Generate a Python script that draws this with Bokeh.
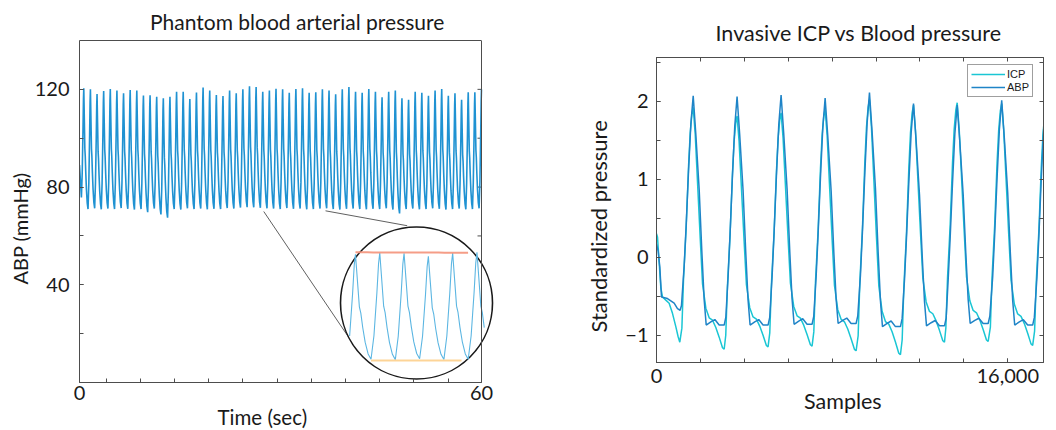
import numpy as np
from bokeh.plotting import figure
from bokeh.layouts import row, column
from bokeh.models import (Range1d, FixedTicker, LinearAxis, Title, Span, Legend,
                          LegendItem)
from bokeh.embed import file_html
from bokeh.resources import INLINE

FONT = "Lato"
TXT = "#1a1a1a"
FRAME = "#4d4d4d"

# ---------------- Left panel data (phantom ABP, 60 s) ----------------
abp_peak_mmHg = [
    120.4, 120.0, 118.1, 119.3, 120.1, 119.5, 118.4, 119.7, 119.5, 117.5,
    117.6, 117.0, 116.4, 117.0, 119.0, 119.0, 116.0, 118.7, 120.8, 119.5,
    117.7, 117.3, 119.5, 118.4, 120.0, 121.3, 121.0, 119.0, 119.5, 120.2,
    120.0, 118.6, 120.1, 120.4, 118.6, 118.8, 120.0, 119.5, 118.0, 120.0,
    121.0, 119.0, 118.6, 120.1, 119.0, 116.8, 119.0, 119.5, 116.4, 115.7,
    119.0, 118.6, 117.4, 119.5, 120.1, 117.4, 118.4, 115.7, 118.8, 118.8,
    120.0]
abp_trough_mmHg = [
    75.7, 71.0, 71.3, 70.9, 71.2, 71.0, 71.4, 71.1, 70.8, 71.0,
    69.7, 71.2, 68.8, 67.5, 71.0, 70.8, 71.3, 71.0, 71.2, 70.9,
    71.1, 71.0, 71.4, 71.2, 71.6, 71.8, 71.7, 71.5, 71.3, 71.2,
    71.0, 71.4, 71.1, 71.2, 70.9, 71.0, 71.2, 71.3, 71.0, 70.8,
    71.1, 71.2, 71.0, 70.9, 71.1, 71.0, 71.3, 70.8, 69.2, 71.0,
    71.2, 70.9, 71.0, 71.3, 71.1, 70.8, 71.0, 71.2, 70.9, 71.0,
    71.3]
abp_start_mmHg = 89.0
abp_first_peak_s = 0.64
abp_period_s = 0.9893
# one beat (phase from trough, 0..1 level)
beat_phase = [0.00, 0.12, 0.24, 0.31, 0.36, 0.44, 0.52, 0.58, 0.66, 0.76, 0.88]
beat_level = [0.00, 0.22, 0.62, 0.90, 1.00, 0.75, 0.50, 0.44, 0.30, 0.16, 0.05]
peak_phase = 0.36

left_xticks = [0, 4.0, 9.1, 14.2, 19.3, 24.4, 29.5, 34.6, 39.7, 44.8, 49.9, 55.0, 60]
left_xlabeled = [0, 60]
left_yticks = [20, 40, 60, 80, 100, 120]
left_ylabeled = [40, 80, 120]

# ---------------- Right panel data (standardized ICP vs ABP) ----------------
r_peak_sample = [1672, 3671, 5676, 7682, 9702, 11708, 13698, 15726, 17740]
abp_peak = [2.07, 2.06, 2.08, 2.04, 2.11, 1.97, 1.95, 2.01, 2.00]
icp_peak = [1.92, 1.81, 1.85, 1.90, 2.02, 1.95, 1.98, 1.97, 1.90]
abp_trough = [-0.87, -0.87, -0.86, -0.85, -0.89, -0.88, -0.85, -0.87]
icp_trough = [-1.18, -1.15, -1.14, -1.20, -1.25, -1.09, -1.08, -1.13]
abp_start_x = [0, 76, 152, 228, 500, 804, 956, 1077, 1138]
abp_start_y = [0.17, 0.08, -0.13, -0.51, -0.53, -0.59, -0.66, -0.68, -0.62]
icp_start_x = [0, 45, 197, 273, 425, 576, 728, 880, 986, 1062]
icp_start_y = [0.30, 0.26, -0.39, -0.51, -0.55, -0.59, -0.72, -0.89, -1.02, -1.09]
abp_fall_off = [121, 273, 394, 500, 592, 804, 986, 1183, 1411, 1487]
abp_fall_lvl = [0.83, 0.59, 0.32, 0.11, 0.0, 0.014, 0.024, 0.0, 0.0, 0.034]
abp_rise_off = [-410, -319, -212, -106]
abp_rise_lvl = [0.21, 0.40, 0.65, 0.87]
icp_fall_off = [91, 197, 319, 425, 576, 728, 880, 1031, 1183, 1335, 1411]
icp_fall_lvl = [0.89, 0.69, 0.46, 0.27, 0.17, 0.13, 0.12, 0.09, 0.05, 0.006, 0.0]
icp_rise_off = [-516, -440, -319, -212, -137, -61]
icp_rise_lvl = [0.06, 0.27, 0.49, 0.75, 0.89, 0.97]

right_xticks = list(range(0, 16001, 2000))
right_xlabeled = [0, 16000]
right_yticks = [-1, -0.5, 0, 0.5, 1, 1.5, 2, 2.5]
right_ylabeled = [-1, 0, 1, 2]
right_label_text = {-1: "\u22121", 16000: "16,000"}


def style_title(tt, size):
    tt.text_font = FONT
    tt.text_font_size = size
    tt.text_font_style = "normal"
    tt.text_color = TXT
    tt.align = "left"


def style_axis(ax, standoff):
    ax.major_tick_in = 4
    ax.major_tick_out = 0
    ax.minor_tick_in = 4
    ax.minor_tick_out = 0
    ax.axis_line_color = FRAME
    ax.major_tick_line_color = FRAME
    ax.minor_tick_line_color = FRAME
    ax.major_label_text_font = FONT
    ax.major_label_text_font_size = "20px"
    ax.major_label_text_color = TXT
    ax.major_label_standoff = standoff


def tick_only_axis(ticks, bounds=None):
    a = LinearAxis(ticker=FixedTicker(ticks=[], minor_ticks=ticks), axis_line_color=FRAME,
                   major_tick_line_color=None, minor_tick_line_color=FRAME,
                   minor_tick_in=4, minor_tick_out=0, major_tick_out=0,
                   major_label_text_color=None, major_label_text_font_size="0px",
                   major_label_standoff=0)
    if bounds is not None:
        a.bounds = bounds
    return a


# ---------------- build left waveform ----------------
t = [0.0]
v = [abp_start_mmHg]
n = len(abp_peak_mmHg)
for k in range(n):
    tp = abp_first_peak_s + k * abp_period_s
    t_tr = tp - peak_phase * abp_period_s
    for ph, lv in zip(beat_phase, beat_level):
        if ph <= peak_phase:
            val = abp_trough_mmHg[k] + lv * (abp_peak_mmHg[k] - abp_trough_mmHg[k])
        else:
            if k == n - 1:
                break
            val = abp_trough_mmHg[k + 1] + lv * (abp_peak_mmHg[k] - abp_trough_mmHg[k + 1])
        t.append(t_tr + ph * abp_period_s)
        v.append(val)
t = np.array(t)
v = np.array(v)

# ---------------- left figure ----------------
pl = figure(width=528, height=430, x_range=Range1d(0, 61.94), y_range=Range1d(0, 140),
            output_backend="svg", toolbar_location=None,
            min_border_left=79, min_border_right=34, min_border_top=38, min_border_bottom=48)
pl.outline_line_color = None
pl.grid.visible = False
pl.background_fill_color = "white"

pl.title.text = "Phantom blood arterial pressure"
style_title(pl.title, "21px")
pl.title.offset = 70.5
pl.title.standoff = 13

xa = pl.xaxis[0]
xa.ticker = FixedTicker(ticks=left_xlabeled, minor_ticks=left_xticks)
xa.bounds = (0, 60)
ya = pl.yaxis[0]
ya.ticker = FixedTicker(ticks=left_ylabeled, minor_ticks=left_yticks)
style_axis(xa, 3)
style_axis(ya, 10)

pl.add_layout(tick_only_axis([], bounds=(0, 60)), "above")
pl.add_layout(Span(location=60, dimension="height", line_color=FRAME, line_width=1))
tick_len = 4 * 60 / 402
pl.segment(x0=[60 - tick_len] * len(left_yticks), y0=left_yticks,
           x1=[60] * len(left_yticks), y1=left_yticks, line_color=FRAME, line_width=1)

ttl = Title(text="ABP (mmHg)", offset=98, standoff=0)
style_title(ttl, "20px")
pl.add_layout(ttl, "left")
ttb = Title(text="Time (sec)", offset=138, standoff=1)
style_title(ttb, "20.5px")
pl.add_layout(ttb, "below")

pl.line(t, v, line_color="#1f92d2", line_width=1.6)

# zoom connectors
pl.segment(x0=[27.5, 36.72], y0=[70.0, 70.28], x1=[40.19, 48.91], y1=[18.44, 64.18],
           line_color="#606060", line_width=1)

# magnified inset
pl.scatter(x=[50.30], y=[32.56], size=152, marker="circle", fill_color="white",
           line_color="#1a1a1a", line_width=1.6)
zoom_first = 28
zoom_n = 5
tz0 = abp_first_peak_s + zoom_first * abp_period_s
w0 = tz0 - 0.25
w1 = tz0 + zoom_n * abp_period_s + 0.30
ins_x0, ins_sx = 41.19, 3.666
ins_y0, ins_v0, ins_sy = 9.36, 71.0, 0.8886
m = (t >= w0) & (t <= w1)
pl.line(ins_x0 + (t[m] - tz0) * ins_sx, ins_y0 + (v[m] - ins_v0) * ins_sy,
        line_color="#5cb6e2", line_width=1.1)
# envelopes through the magnified peaks / troughs
pk_idx = list(range(zoom_first, zoom_first + zoom_n))
pk_t = np.array([abp_first_peak_s + k * abp_period_s for k in pk_idx])
pk_v = np.array([abp_peak_mmHg[k] for k in pk_idx])
pk_x = ins_x0 + (pk_t - tz0) * ins_sx
pk_y = ins_y0 + (pk_v - ins_v0) * ins_sy
c1 = np.polyfit(pk_x, pk_y, 1)
ex = np.linspace(pk_x[0], pk_x[-1] + 2.3, 20)
pl.line(ex, np.polyval(c1, ex) + 0.6, line_color="#f4927a", line_width=2, line_alpha=0.9)
tr_idx = list(range(zoom_first + 1, zoom_first + zoom_n + 1))
tr_t = np.array([abp_first_peak_s + k * abp_period_s - peak_phase * abp_period_s for k in tr_idx])
tr_v = np.array([abp_trough_mmHg[k] for k in tr_idx])
tr_x = ins_x0 + (tr_t - tz0) * ins_sx
tr_y = ins_y0 + (tr_v - ins_v0) * ins_sy
c2 = np.polyfit(tr_x, tr_y, 2)
ex2 = np.linspace(tr_x[0], tr_x[-1] - 1.0, 20)
pl.line(ex2, np.polyval(c2, ex2) - 0.5, line_color="#fdcf8c", line_width=2, line_alpha=0.9)


# ---------------- build right waveforms ----------------
def build(start_x, start_y, peaks_s, peaks_v, troughs_v, fall_off, fall_lvl, rise_off, rise_lvl):
    xs = list(start_x)
    ys = list(start_y)
    prev = min(start_y)
    for k, (ps, pv) in enumerate(zip(peaks_s, peaks_v)):
        for o, lv in zip(rise_off, rise_lvl):
            xs.append(ps + o)
            ys.append(prev + lv * (pv - prev))
        xs.append(ps)
        ys.append(pv)
        if k < len(troughs_v):
            tv = troughs_v[k]
            for o, lv in zip(fall_off, fall_lvl):
                xs.append(ps + o)
                ys.append(tv + lv * (pv - tv))
            prev = tv
    return xs, ys


ax_abp, ay_abp = build(abp_start_x, abp_start_y, r_peak_sample, abp_peak, abp_trough,
                       abp_fall_off, abp_fall_lvl, abp_rise_off, abp_rise_lvl)
ax_icp, ay_icp = build(icp_start_x, icp_start_y, r_peak_sample, icp_peak, icp_trough,
                       icp_fall_off, icp_fall_lvl, icp_rise_off, icp_rise_lvl)

pr = figure(width=528, height=430, x_range=Range1d(0, 17630), y_range=Range1d(-1.35, 2.56),
            output_backend="svg", toolbar_location=None,
            min_border_left=128, min_border_right=13, min_border_top=57, min_border_bottom=68)
pr.grid.visible = False
pr.outline_line_color = FRAME
pr.outline_line_alpha = 1

pr.title.text = "Invasive ICP vs Blood pressure"
style_title(pr.title, "21.5px")
pr.title.offset = 59
pr.title.standoff = 24

rxa = pr.xaxis[0]
rxa.ticker = FixedTicker(ticks=right_xlabeled, minor_ticks=right_xticks)
rxa.major_label_overrides = {k: s for k, s in right_label_text.items() if k in right_xlabeled}
rya = pr.yaxis[0]
rya.ticker = FixedTicker(ticks=right_ylabeled, minor_ticks=right_yticks)
rya.major_label_overrides = {k: s for k, s in right_label_text.items() if k in right_ylabeled}
style_axis(rxa, 6)
style_axis(rya, 8)

pr.add_layout(tick_only_axis(right_xticks), "above")
pr.add_layout(tick_only_axis(right_yticks), "right")

trl = Title(text="Standardized pressure", offset=30, standoff=22)
style_title(trl, "22px")
pr.add_layout(trl, "left")
trb = Title(text="Samples", offset=147.5, standoff=1)
style_title(trb, "21.5px")
pr.add_layout(trb, "below")

r_icp = pr.line(ax_icp, ay_icp, line_color="#1ac6d4", line_width=1.5)
r_abp = pr.line(ax_abp, ay_abp, line_color="#1f84c7", line_width=1.5)

legend = Legend(items=[LegendItem(label="ICP", renderers=[r_icp]),
                       LegendItem(label="ABP", renderers=[r_abp])],
                location=(311, 265), border_line_color="#404040", border_line_width=1,
                background_fill_color="white", background_fill_alpha=1,
                label_text_font="Liberation Sans", label_text_font_size="11px",
                label_text_color=TXT, glyph_width=34, glyph_height=12, label_height=12,
                label_standoff=2, padding=3, spacing=1, margin=0)
pr.add_layout(legend)

layout = row(column(pl), column(pr))
open("out.html", "w").write(file_html(layout, INLINE))
